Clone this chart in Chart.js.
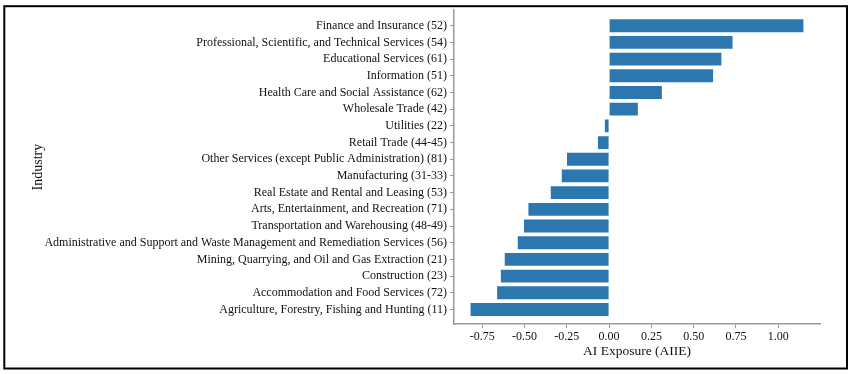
<!DOCTYPE html>
<html>
<head>
<meta charset="utf-8">
<script src="https://cdn.jsdelivr.net/npm/chart.js@4/dist/chart.umd.min.js"></script>
<style>
  html, body { margin: 0; padding: 0; background: #fff; }
  #wrap { position: relative; width: 853px; height: 374px; }
</style>
</head>
<body>
<div id="wrap"><canvas id="c" width="853" height="374"></canvas></div>
<script>
const categories = [
  "Finance and Insurance (52)",
  "Professional, Scientific, and Technical Services (54)",
  "Educational Services (61)",
  "Information (51)",
  "Health Care and Social Assistance (62)",
  "Wholesale Trade (42)",
  "Utilities (22)",
  "Retail Trade (44-45)",
  "Other Services (except Public Administration) (81)",
  "Manufacturing (31-33)",
  "Real Estate and Rental and Leasing (53)",
  "Arts, Entertainment, and Recreation (71)",
  "Transportation and Warehousing (48-49)",
  "Administrative and Support and Waste Management and Remediation Services (56)",
  "Mining, Quarrying, and Oil and Gas Extraction (21)",
  "Construction (23)",
  "Accommodation and Food Services (72)",
  "Agriculture, Forestry, Fishing and Hunting (11)"
];
const aiie = [1.149, 0.730, 0.664, 0.615, 0.312, 0.170, -0.025, -0.066, -0.249, -0.280,
              -0.345, -0.477, -0.503, -0.540, -0.617, -0.640, -0.662, -0.819];
const xTicks = [-0.75, -0.50, -0.25, 0.00, 0.25, 0.50, 0.75, 1.00];
const xTitle = "AI Exposure (AIIE)";
const yTitle = "Industry";

const points = categories.map((c, i) => ({ x: aiie[i], y: i }));

const framePlugin = {
  id: 'frame',
  beforeDraw(chart) {
    const ctx = chart.ctx;
    ctx.save();
    ctx.fillStyle = '#fff';
    ctx.fillRect(0, 0, chart.width, chart.height);
    ctx.restore();
  },
  afterDraw(chart) {
    const ctx = chart.ctx;
    ctx.save();
    ctx.strokeStyle = '#000';
    ctx.lineWidth = 2;
    ctx.strokeRect(4.3, 6.2, 842.7, 362.3);
    ctx.restore();
  }
};

const font = { family: "'Liberation Serif', 'Times New Roman', serif", size: 12 };

new Chart(document.getElementById('c'), {
  type: 'bar',
  data: {
    datasets: [{
      data: points,
      backgroundColor: '#2d77b1',
      borderWidth: 0,
      barPercentage: 0.77,
      categoryPercentage: 1.0
    }]
  },
  options: {
    indexAxis: 'y',
    responsive: false,
    animation: false,
    devicePixelRatio: 1,
    layout: { padding: { left: 26, right: 33, top: 7, bottom: 10 } },
    plugins: { legend: { display: false }, tooltip: { enabled: false } },
    scales: {
      x: {
        type: 'linear',
        min: -0.917,
        max: 1.247,
        afterBuildTicks: (s) => { s.ticks = xTicks.map(v => ({ value: v })); },
        afterFit: (s) => { s.height = 40; },
        ticks: {
          color: '#111',
          font: font,
          padding: 2,
          maxRotation: 0,
          autoSkip: false,
          callback: (v) => Number(v).toFixed(2)
        },
        grid: { drawOnChartArea: false, drawTicks: true, tickLength: 4, color: '#999', lineWidth: 1 },
        border: { display: true, color: '#999', width: 1.5 },
        title: { display: true, text: xTitle, color: '#111',
                 font: { family: font.family, size: 13.5 }, padding: { top: 0, bottom: 4 } }
      },
      y: {
        type: 'linear',
        reverse: true,
        offset: false,
        min: -0.93,
        max: 17.87,
        afterBuildTicks: (s) => { s.ticks = categories.map((c, i) => ({ value: i })); },
        afterFit: (s) => { s.width = 428; },
        ticks: {
          color: '#111',
          font: font,
          padding: 3,
          autoSkip: false,
          callback: (v) => categories[v]
        },
        grid: { drawOnChartArea: false, drawTicks: true, tickLength: 4, color: '#999', lineWidth: 1, offset: false },
        border: { display: true, color: '#999', width: 1.5 },
        title: { display: true, text: yTitle, color: '#111',
                 font: { family: font.family, size: 14 }, padding: { top: 4, bottom: 0 } }
      }
    }
  },
  plugins: [framePlugin]
});
</script>
</body>
</html>
